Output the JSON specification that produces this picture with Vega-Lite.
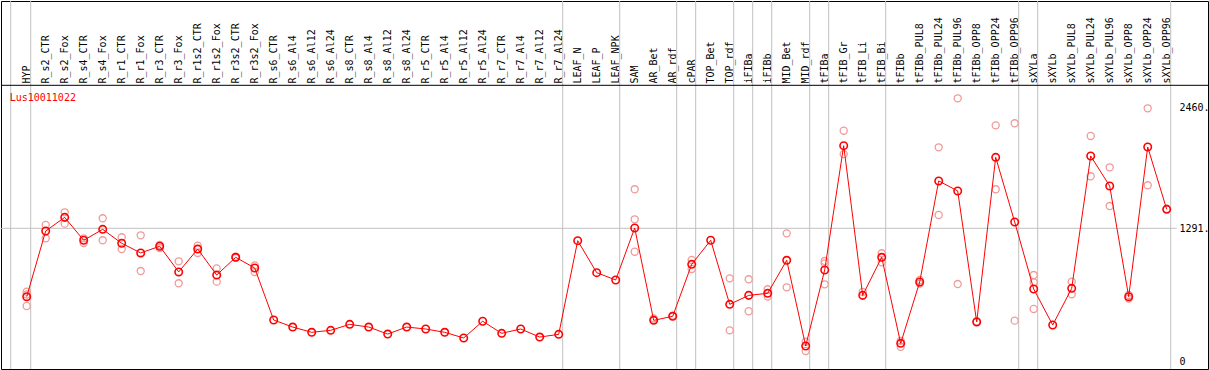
{
  "$schema": "https://vega.github.io/schema/vega-lite/v6.json",
  "width": 1207,
  "height": 368,
  "autosize": "none",
  "padding": {"left": 1, "top": 1, "right": 1, "bottom": 1},
  "background": "white",
  "config": {
    "view": {"stroke": "black", "strokeWidth": 1},
    "axis": {"labelFont": "DejaVu Sans Mono", "labelFontSize": 10, "labelColor": "black"}
  },
  "datasets": {
    "means": [
      {"s": "HYP", "v": 628}, {"s": "R_s2_CTR", "v": 1265}, {"s": "R_s2_Fox", "v": 1397}, {"s": "R_s4_CTR", "v": 1175},
      {"s": "R_s4_Fox", "v": 1281}, {"s": "R_r1_CTR", "v": 1146}, {"s": "R_r1_Fox", "v": 1052}, {"s": "R_r3_CTR", "v": 1117},
      {"s": "R_r3_Fox", "v": 868}, {"s": "R_r1s2_CTR", "v": 1090}, {"s": "R_r1s2_Fox", "v": 838}, {"s": "R_r3s2_CTR", "v": 1010},
      {"s": "R_r3s2_Fox", "v": 906}, {"s": "R_s6_CTR", "v": 402}, {"s": "R_s6_Al4", "v": 334}, {"s": "R_s6_Al12", "v": 283},
      {"s": "R_s6_Al24", "v": 302}, {"s": "R_s8_CTR", "v": 360}, {"s": "R_s8_Al4", "v": 334}, {"s": "R_s8_Al12", "v": 266},
      {"s": "R_s8_Al24", "v": 334}, {"s": "R_r5_CTR", "v": 315}, {"s": "R_r5_Al4", "v": 283}, {"s": "R_r5_Al12", "v": 228},
      {"s": "R_r5_Al24", "v": 390}, {"s": "R_r7_CTR", "v": 273}, {"s": "R_r7_Al4", "v": 315}, {"s": "R_r7_Al12", "v": 237},
      {"s": "R_r7_Al24", "v": 263}, {"s": "LEAF_N", "v": 1171}, {"s": "LEAF_P", "v": 861}, {"s": "LEAF_NPK", "v": 790},
      {"s": "SAM", "v": 1294}, {"s": "AR_Bet", "v": 399}, {"s": "AR_rdf", "v": 438}, {"s": "cPAR", "v": 942},
      {"s": "TOP_Bet", "v": 1175}, {"s": "TOP_rdf", "v": 554}, {"s": "iFIBa", "v": 641}, {"s": "iFIBb", "v": 661},
      {"s": "MID_Bet", "v": 981}, {"s": "MID_rdf", "v": 150}, {"s": "tFIBa", "v": 887}, {"s": "tFIB_Gr", "v": 2092},
      {"s": "tFIB_Li", "v": 641}, {"s": "tFIB_Bi", "v": 1010}, {"s": "tFIBb", "v": 176}, {"s": "tFIBb_PUL8", "v": 771},
      {"s": "tFIBb_PUL24", "v": 1750}, {"s": "tFIBb_PUL96", "v": 1653}, {"s": "tFIBb_OPP8", "v": 383}, {"s": "tFIBb_OPP24", "v": 1979},
      {"s": "tFIBb_OPP96", "v": 1352}, {"s": "sXYLa", "v": 703}, {"s": "sXYLb", "v": 354}, {"s": "sXYLb_PUL8", "v": 709},
      {"s": "sXYLb_PUL24", "v": 1992}, {"s": "sXYLb_PUL96", "v": 1701}, {"s": "sXYLb_OPP8", "v": 628}, {"s": "sXYLb_OPP24", "v": 2079},
      {"s": "sXYLb_OPP96", "v": 1475}
    ],
    "reps": [
      {"s": "HYP", "v": 677}, {"s": "HYP", "v": 650}, {"s": "HYP", "v": 538},
      {"s": "R_s2_CTR", "v": 1323}, {"s": "R_s2_CTR", "v": 1194},
      {"s": "R_s2_Fox", "v": 1446}, {"s": "R_s2_Fox", "v": 1336},
      {"s": "R_s4_CTR", "v": 1194}, {"s": "R_s4_CTR", "v": 1149},
      {"s": "R_s4_Fox", "v": 1388}, {"s": "R_s4_Fox", "v": 1175},
      {"s": "R_r1_CTR", "v": 1204}, {"s": "R_r1_CTR", "v": 1090},
      {"s": "R_r1_Fox", "v": 1223}, {"s": "R_r1_Fox", "v": 877},
      {"s": "R_r3_CTR", "v": 1130}, {"s": "R_r3_CTR", "v": 1100},
      {"s": "R_r3_Fox", "v": 971}, {"s": "R_r3_Fox", "v": 758},
      {"s": "R_r1s2_CTR", "v": 1122}, {"s": "R_r1s2_CTR", "v": 1052},
      {"s": "R_r1s2_Fox", "v": 903}, {"s": "R_r1s2_Fox", "v": 774},
      {"s": "R_r3s2_CTR", "v": 1015}, {"s": "R_r3s2_CTR", "v": 1005},
      {"s": "R_r3s2_Fox", "v": 932}, {"s": "R_r3s2_Fox", "v": 868},
      {"s": "SAM", "v": 1669}, {"s": "SAM", "v": 1378}, {"s": "SAM", "v": 1064},
      {"s": "AR_Bet", "v": 418}, {"s": "AR_Bet", "v": 405},
      {"s": "AR_rdf", "v": 445},
      {"s": "cPAR", "v": 984}, {"s": "cPAR", "v": 897},
      {"s": "TOP_rdf", "v": 806}, {"s": "TOP_rdf", "v": 302},
      {"s": "iFIBa", "v": 797}, {"s": "iFIBa", "v": 487},
      {"s": "iFIBb", "v": 700}, {"s": "iFIBb", "v": 629},
      {"s": "MID_Bet", "v": 1242}, {"s": "MID_Bet", "v": 719},
      {"s": "MID_rdf", "v": 192}, {"s": "MID_rdf", "v": 102},
      {"s": "tFIBa", "v": 974}, {"s": "tFIBa", "v": 950}, {"s": "tFIBa", "v": 748},
      {"s": "tFIB_Gr", "v": 2237}, {"s": "tFIB_Gr", "v": 2010},
      {"s": "tFIB_Li", "v": 674},
      {"s": "tFIB_Bi", "v": 1049}, {"s": "tFIB_Bi", "v": 962},
      {"s": "tFIBb", "v": 143}, {"s": "tFIBb", "v": 200},
      {"s": "tFIBb_PUL8", "v": 790}, {"s": "tFIBb_PUL8", "v": 755},
      {"s": "tFIBb_PUL24", "v": 2076}, {"s": "tFIBb_PUL24", "v": 1420},
      {"s": "tFIBb_PUL96", "v": 2551}, {"s": "tFIBb_PUL96", "v": 751},
      {"s": "tFIBb_OPP8", "v": 390},
      {"s": "tFIBb_OPP24", "v": 2289}, {"s": "tFIBb_OPP24", "v": 1669},
      {"s": "tFIBb_OPP96", "v": 2309}, {"s": "tFIBb_OPP96", "v": 396},
      {"s": "sXYLa", "v": 838}, {"s": "sXYLa", "v": 768}, {"s": "sXYLa", "v": 509},
      {"s": "sXYLb_PUL8", "v": 774}, {"s": "sXYLb_PUL8", "v": 651},
      {"s": "sXYLb_PUL24", "v": 2186}, {"s": "sXYLb_PUL24", "v": 1795},
      {"s": "sXYLb_PUL96", "v": 1882}, {"s": "sXYLb_PUL96", "v": 1507},
      {"s": "sXYLb_OPP8", "v": 645}, {"s": "sXYLb_OPP8", "v": 610},
      {"s": "sXYLb_OPP24", "v": 2454}, {"s": "sXYLb_OPP24", "v": 1708},
      {"s": "sXYLb_OPP96", "v": 1480}
    ],
    "seps": [
      {"s": "HYP"}, {"s": "R_r7_Al24"}, {"s": "LEAF_NPK"}, {"s": "AR_rdf"}, {"s": "cPAR"}, {"s": "TOP_rdf"},
      {"s": "iFIBa"}, {"s": "iFIBb"}, {"s": "MID_rdf"}, {"s": "tFIBa"}, {"s": "tFIB_Bi"}, {"s": "tFIBb_OPP96"},
      {"s": "sXYLa"}, {"s": "sXYLb_OPP96"}
    ],
    "title": [{"t": "Lus10011022"}]
  },
  "layer": [
    {
      "data": {"name": "seps"},
      "mark": {"type": "rule", "color": "#c0c0c0", "strokeWidth": 1, "xOffset": 4},
      "encoding": {"x": {"field": "s", "type": "nominal", "sort": null}}
    },
    {
      "data": {"name": "title"},
      "mark": {"type": "rule", "color": "#c0c0c0", "strokeWidth": 1, "xOffset": -16},
      "encoding": {"x": {"datum": "HYP", "type": "nominal"}}
    },
    {
      "data": {"name": "title"},
      "mark": {"type": "rule", "color": "#c0c0c0", "strokeWidth": 1, "xOffset": -26, "x2Offset": 10},
      "encoding": {
        "x": {"datum": "HYP", "type": "nominal"},
        "x2": {"datum": "sXYLb_OPP96"},
        "y": {"datum": 1291, "type": "quantitative"}
      }
    },
    {
      "data": {"name": "title"},
      "mark": {"type": "rule", "color": "black", "strokeWidth": 1},
      "encoding": {"y": {"datum": 2677, "type": "quantitative"}}
    },
    {
      "data": {"name": "reps"},
      "mark": {"type": "point", "shape": "circle", "filled": false, "color": "#f09a9a", "strokeWidth": 1.3, "size": 50, "opacity": 1},
      "encoding": {
        "x": {"field": "s", "type": "nominal", "sort": null},
        "y": {"field": "v", "type": "quantitative"}
      }
    },
    {
      "data": {"name": "means"},
      "mark": {"type": "line", "color": "#ff0000", "strokeWidth": 1},
      "encoding": {
        "x": {
          "field": "s", "type": "nominal", "sort": null,
          "scale": {"type": "point", "range": [25.7, 1165.7], "padding": 0,
            "domain": ["HYP", "R_s2_CTR", "R_s2_Fox", "R_s4_CTR", "R_s4_Fox", "R_r1_CTR", "R_r1_Fox", "R_r3_CTR", "R_r3_Fox",
              "R_r1s2_CTR", "R_r1s2_Fox", "R_r3s2_CTR", "R_r3s2_Fox", "R_s6_CTR", "R_s6_Al4", "R_s6_Al12", "R_s6_Al24",
              "R_s8_CTR", "R_s8_Al4", "R_s8_Al12", "R_s8_Al24", "R_r5_CTR", "R_r5_Al4", "R_r5_Al12", "R_r5_Al24",
              "R_r7_CTR", "R_r7_Al4", "R_r7_Al12", "R_r7_Al24", "LEAF_N", "LEAF_P", "LEAF_NPK", "SAM", "AR_Bet", "AR_rdf",
              "cPAR", "TOP_Bet", "TOP_rdf", "iFIBa", "iFIBb", "MID_Bet", "MID_rdf", "tFIBa", "tFIB_Gr", "tFIB_Li", "tFIB_Bi",
              "tFIBb", "tFIBb_PUL8", "tFIBb_PUL24", "tFIBb_PUL96", "tFIBb_OPP8", "tFIBb_OPP24", "tFIBb_OPP96", "sXYLa",
              "sXYLb", "sXYLb_PUL8", "sXYLb_PUL24", "sXYLb_PUL96", "sXYLb_OPP8", "sXYLb_OPP24", "sXYLb_OPP96"]},
          "axis": {"orient": "top", "offset": -84, "labelAngle": 270, "labelAlign": "left", "labelBaseline": "middle",
                   "labelPadding": 2, "ticks": false, "tickSize": 0, "domain": false, "grid": false, "title": null,
                   "labelOverlap": false, "labelBound": false, "labelFont": "DejaVu Sans Mono", "labelFontSize": 10}
        },
        "y": {
          "field": "v", "type": "quantitative",
          "scale": {"domain": [0, 2460], "range": [360.5, 106.7], "nice": false, "zero": false},
          "axis": {"orient": "right", "offset": -29, "values": [0, 1291, 2460],
                   "labelExpr": "datum.value == 0 ? '0' : datum.value + '.'",
                   "ticks": false, "tickSize": 0, "domain": false, "grid": false, "labelPadding": 0,
                   "labelAlign": "left", "title": null, "labelOverlap": false, "labelBound": false,
                   "labelFont": "DejaVu Sans Mono", "labelFontSize": 10}
        },
        "order": {"value": null}
      }
    },
    {
      "data": {"name": "means"},
      "mark": {"type": "point", "shape": "circle", "filled": false, "color": "#ff0000", "strokeWidth": 1.6, "size": 55, "opacity": 1},
      "encoding": {
        "x": {"field": "s", "type": "nominal", "sort": null},
        "y": {"field": "v", "type": "quantitative"}
      }
    },
    {
      "data": {"name": "title"},
      "mark": {"type": "text", "color": "#ff0000", "font": "DejaVu Sans Mono", "fontSize": 10, "align": "left", "baseline": "alphabetic", "dx": -17},
      "encoding": {
        "x": {"datum": "HYP", "type": "nominal"},
        "y": {"datum": 2528, "type": "quantitative"},
        "text": {"field": "t"}
      }
    }
  ]
}
